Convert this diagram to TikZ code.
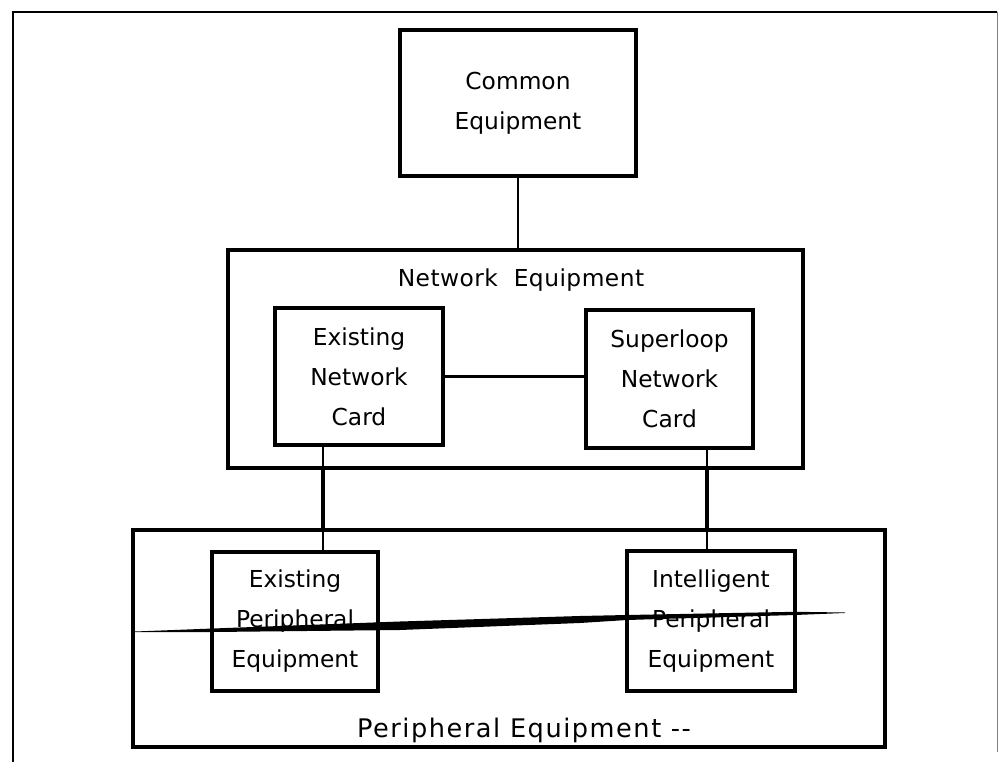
\documentclass[tikz,border=0pt]{standalone}
\usepackage{fontspec}
\setmainfont{DejaVu Sans}
\newfontfamily\netfont[LetterSpace=2]{DejaVu Sans}
\newfontfamily\perifont[LetterSpace=6]{DejaVu Sans}
\tikzset{
	unitbox/.style={draw, line width=2.4pt, inner sep=0pt, align=center,
		font=\fontsize{17.5}{30}\selectfont},
	groupbox/.style={draw, line width=3pt, inner sep=0pt},
	link/.style={line width=1.9pt},
	trunk/.style={line width=3.2pt},
}
\begin{document}
\begin{tikzpicture}[x=0.75pt,y=-0.75pt]
	\useasboundingbox (0,0) rectangle (998,762);
	% page frame
	\draw[line width=2.2pt] (13,762) -- (13,12) -- (997,12);
	\draw[gray, line width=0.6pt] (997,12) -- (997,752);
	% boxes
	\node[unitbox, minimum width=177pt, minimum height=109.5pt] (common) at (518,103) {Common\\Equipment};
	\node[groupbox, minimum width=431.25pt, minimum height=163.5pt] (net) at (515.5,359) {};
	\node[font=\netfont\fontsize{17.5}{20}\selectfont, anchor=base] (netlabel) at (521,287) {Network~ Equipment};
	\node[unitbox, minimum width=126pt, minimum height=102.75pt] (encard) at (359,376.5) {Existing\\Network\\Card};
	\node[unitbox, minimum width=125.25pt, minimum height=103.5pt] (slcard) at (669.5,379) {Superloop\\Network\\Card};
	\node[groupbox, line width=2.4pt, minimum width=564pt, minimum height=162.75pt] (peri) at (509,638.5) {};
	\node[font=\perifont\fontsize{19.2}{22}\selectfont, anchor=base] (perilabel) at (524,737) {Peripheral Equipment --};
	\node[unitbox, minimum width=124.5pt, minimum height=104.25pt] (epe) at (295,621.5) {Existing\\Peripheral\\Equipment};
	\node[unitbox, minimum width=126pt, minimum height=105pt] (ipe) at (711,621) {Intelligent\\Peripheral\\Equipment};
	% connectors
	\coordinate (ldrop) at (323,0);
	\coordinate (rdrop) at (707,0);
	\draw[link] (common.south) -- (common.south |- net.north);
	\draw[link] (encard.east) -- (slcard.west |- encard.east);
	\draw[link] (encard.south -| ldrop) -- (epe.north -| ldrop);
	\draw[link] (slcard.south -| rdrop) -- (ipe.north -| rdrop);
	\draw[trunk] (net.south -| ldrop) -- (peri.north -| ldrop);
	\draw[trunk] (net.south -| rdrop) -- (peri.north -| rdrop);
	% strike across the peripheral boxes
	\fill (135,631.5) -- (213,628.5) -- (400,621.5) -- (580,616) -- (627,615) -- (795,611.8) -- (845,612.5)
		-- (845,613) -- (795,615) -- (627,620) -- (580,623) -- (400,630) -- (213,632) -- (135,632) -- cycle;
\end{tikzpicture}
\end{document}
